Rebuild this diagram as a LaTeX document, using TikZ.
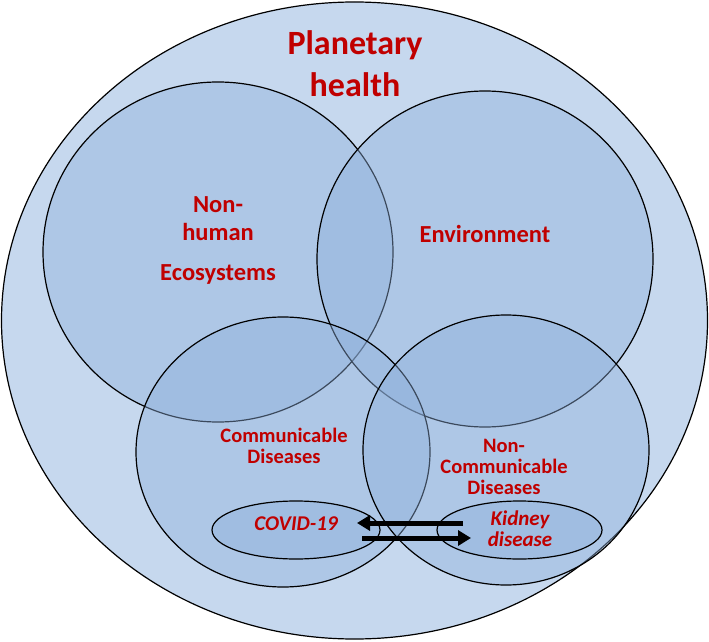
\documentclass[tikz,border=0pt]{standalone}
\usepackage{fontspec}
\setmainfont{Carlito}
\usetikzlibrary{shapes.geometric,arrows.meta}
\definecolor{outerfill}{HTML}{C6D8EE}
\definecolor{setfill}{HTML}{8EB0DC}
\definecolor{labred}{HTML}{C00000}
\tikzset{
  setshape/.style={ellipse, draw=black, line width=1.2pt, fill=setfill, fill opacity=0.42, inner sep=0pt},
  lab/.style={text=labred, font=\bfseries, anchor=base, inner sep=0pt},
  biglab/.style={lab, font=\fontsize{34}{40}\selectfont\bfseries},
  midlab/.style={lab, font=\fontsize{24.5}{30}\selectfont\bfseries},
  smalllab/.style={lab, font=\fontsize{20.5}{24}\selectfont\bfseries},
  itlab/.style={lab, font=\fontsize{21}{25}\selectfont\bfseries\itshape},
  thickarrow/.style={line width=5pt, -{Triangle[length=13pt,width=15pt]}}
}
\begin{document}
\begin{tikzpicture}[x=1pt,y=1pt]
\useasboundingbox (0,0) rectangle (709,641);
\fill[white] (0,0) rectangle (709,641);
\node[ellipse, draw=black, line width=1.2pt, fill=outerfill, minimum width=706pt, minimum height=637pt, inner sep=0pt] (outer) at (354.5,320.5) {};
\node[setshape, minimum width=350pt, minimum height=340pt] (nonhuman) at (218,389) {};
\node[setshape, minimum width=336pt, minimum height=336pt] (env) at (485,382) {};
\node[setshape, minimum width=294pt, minimum height=270pt] (cd) at (283,189) {};
\node[setshape, minimum width=286pt, minimum height=270pt] (ncd) at (506,191) {};
\node[setshape, minimum width=168pt, minimum height=58pt] (covid) at (296,111) {};
\node[setshape, minimum width=165pt, minimum height=58pt] (kidney) at (519.5,111) {};
% labels
\node[biglab] (pl1) at (355,586) {Planetary};
\node[biglab] (pl2) at (355,544) {health};
\node[midlab] (nh1) at (218,428.5) {Non-};
\node[midlab] (nh2) at (218,400) {human};
\node[midlab] (nh3) at (218,361) {Ecosystems};
\node[midlab] (envl) at (485,399) {Environment};
\node[smalllab] (cd1) at (284,199) {Communicable};
\node[smalllab] (cd2) at (284,178) {Diseases};
\node[smalllab] (ncd1) at (504,189) {Non-};
\node[smalllab] (ncd2) at (504,167.5) {Communicable};
\node[smalllab] (ncd3) at (504,146.5) {Diseases};
\node[itlab] (covidl) at (296,111) {COVID-19};
\node[itlab] (kid1) at (520,116) {Kidney};
\node[itlab] (kid2) at (520,95) {disease};
% arrows
\coordinate (a1s) at (463,118);
\coordinate (a1e) at (357,118);
\coordinate (a2s) at (362,103);
\coordinate (a2e) at (471,103);
\draw[thickarrow] (a1s) -- (a1e);
\draw[thickarrow] (a2s) -- (a2e);
\end{tikzpicture}
\end{document}
